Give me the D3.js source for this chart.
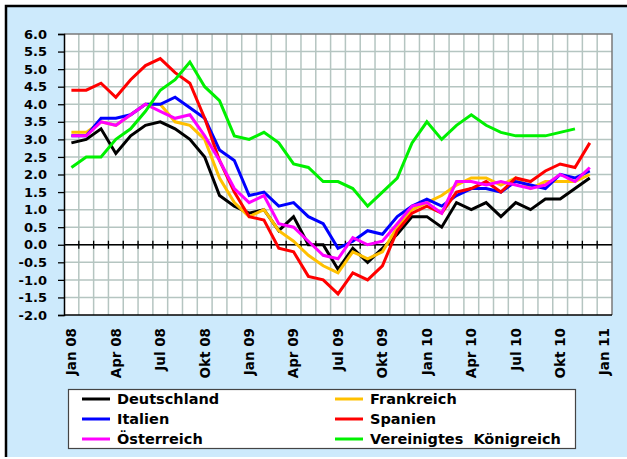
<!DOCTYPE html>
<html>
<head>
<meta charset="utf-8">
<script src="https://cdn.jsdelivr.net/npm/d3@7"></script>
<style>
  body { margin: 0; background: #fff; }
  svg text { font-family: "DejaVu Sans", Verdana, sans-serif; font-weight: bold; fill: #000; }
</style>
</head>
<body>
<svg id="chart" width="627" height="459"></svg>
<script>
// Monate (Kategorien der x-Achse), Jan 08 bis Jan 11
const months = [
  'Jan 08', 'Feb 08', 'Mrz 08', 'Apr 08', 'Mai 08', 'Jun 08', 'Jul 08', 'Aug 08', 'Sep 08', 'Okt 08', 'Nov 08', 'Dez 08',
  'Jan 09', 'Feb 09', 'Mrz 09', 'Apr 09', 'Mai 09', 'Jun 09', 'Jul 09', 'Aug 09', 'Sep 09', 'Okt 09', 'Nov 09', 'Dez 09',
  'Jan 10', 'Feb 10', 'Mrz 10', 'Apr 10', 'Mai 10', 'Jun 10', 'Jul 10', 'Aug 10', 'Sep 10', 'Okt 10', 'Nov 10', 'Dez 10',
  'Jan 11'
];
const tickLabels = ['Jan 08', 'Apr 08', 'Jul 08', 'Okt 08', 'Jan 09', 'Apr 09', 'Jul 09', 'Okt 09',
  'Jan 10', 'Apr 10', 'Jul 10', 'Okt 10', 'Jan 11'];
const yTicks = d3.range(-2, 6.01, 0.5);

// Werte je Land (Jan 08 .. Dez 10)
const deutschland = [2.9, 3.0, 3.3, 2.6, 3.1, 3.4, 3.5, 3.3, 3.0, 2.5, 1.4, 1.1,
  0.9, 1.0, 0.4, 0.8, 0.0, 0.0, -0.7, -0.1, -0.5, -0.1, 0.3, 0.8,
  0.8, 0.5, 1.2, 1.0, 1.2, 0.8, 1.2, 1.0, 1.3, 1.3, 1.6, 1.9];
const frankreich = [3.2, 3.2, 3.5, 3.4, 3.7, 4.0, 4.0, 3.5, 3.4, 3.0, 1.9, 1.2,
  0.8, 1.0, 0.4, 0.1, -0.3, -0.6, -0.8, -0.2, -0.4, -0.2, 0.5, 1.0,
  1.2, 1.4, 1.7, 1.9, 1.9, 1.7, 1.9, 1.6, 1.8, 1.8, 1.8, 2.0];
const italien = [3.1, 3.1, 3.6, 3.6, 3.7, 4.0, 4.0, 4.2, 3.9, 3.6, 2.7, 2.4,
  1.4, 1.5, 1.1, 1.2, 0.8, 0.6, -0.1, 0.1, 0.4, 0.3, 0.8, 1.1,
  1.3, 1.1, 1.4, 1.6, 1.6, 1.5, 1.8, 1.7, 1.6, 2.0, 1.9, 2.1];
const spanien = [4.4, 4.4, 4.6, 4.2, 4.7, 5.1, 5.3, 4.9, 4.6, 3.6, 2.4, 1.5,
  0.8, 0.7, -0.1, -0.2, -0.9, -1.0, -1.4, -0.8, -1.0, -0.6, 0.4, 0.9,
  1.1, 0.9, 1.5, 1.6, 1.8, 1.5, 1.9, 1.8, 2.1, 2.3, 2.2, 2.9];
const oesterreich = [3.1, 3.1, 3.5, 3.4, 3.7, 4.0, 3.8, 3.6, 3.7, 3.1, 2.4, 1.6,
  1.2, 1.4, 0.6, 0.5, 0.1, -0.3, -0.4, 0.2, 0.0, 0.1, 0.6, 1.1,
  1.2, 0.9, 1.8, 1.8, 1.7, 1.8, 1.7, 1.6, 1.7, 2.0, 1.8, 2.2];
const vereinigtesKoenigreich = [2.2, 2.5, 2.5, 3.0, 3.3, 3.8, 4.4, 4.7, 5.2, 4.5, 4.1, 3.1,
  3.0, 3.2, 2.9, 2.3, 2.2, 1.8, 1.8, 1.6, 1.1, 1.5, 1.9, 2.9,
  3.5, 3.0, 3.4, 3.7, 3.4, 3.2, 3.1, 3.1, 3.1, 3.2, 3.3, null];

const series = [
  { name: 'Deutschland', color: '#000000', values: deutschland },
  { name: 'Frankreich', color: '#ffc000', values: frankreich },
  { name: 'Italien', color: '#0000ff', values: italien },
  { name: 'Spanien', color: '#ff0000', values: spanien },
  { name: 'Österreich', color: '#ff00ff', values: oesterreich },
  { name: 'Vereinigtes  Königreich', color: '#00f000', values: vereinigtesKoenigreich }
];

const plot = { left: 64, right: 612, top: 34, bottom: 315 };

const svg = d3.select('#chart');

// Hintergrund mit Rahmen (rechts und unten abgeschnitten)
svg.append('rect')
  .attr('x', 6).attr('y', 6).attr('width', 621).attr('height', 451)
  .attr('fill', '#cdeafc');
svg.append('path')
  .attr('d', 'M6,457V6H627')
  .attr('fill', 'none').attr('stroke', '#000').attr('stroke-width', 2.5);

const x = d3.scaleBand()
  .domain(months)
  .range([plot.left, plot.right])
  .padding(0);
const xc = m => x(m) + x.bandwidth() / 2;

const y = d3.scaleLinear()
  .domain([-2, 6])
  .range([plot.bottom, plot.top]);

svg.append('rect')
  .attr('x', plot.left).attr('y', plot.top)
  .attr('width', plot.right - plot.left).attr('height', plot.bottom - plot.top)
  .attr('fill', '#fff');

// Gitternetz
const grid = svg.append('g')
  .attr('stroke', '#b5c5c1').attr('stroke-width', 1.5);
grid.selectAll('line.h')
  .data(yTicks.filter(v => v > -2 && v < 6))
  .join('line')
  .attr('x1', plot.left).attr('x2', plot.right)
  .attr('y1', d => y(d)).attr('y2', d => y(d));
grid.selectAll('line.v')
  .data(months.slice(1))
  .join('line')
  .attr('x1', d => x(d)).attr('x2', d => x(d))
  .attr('y1', plot.top).attr('y2', plot.bottom);

// Rahmen oben/rechts
svg.append('path')
  .attr('d', `M${plot.left},${plot.top}H${plot.right}V${plot.bottom}`)
  .attr('fill', 'none').attr('stroke', '#7a7a7a').attr('stroke-width', 1.5);

// Nulllinie mit Teilstrichen
const zero = svg.append('g').attr('stroke', '#000');
zero.append('line')
  .attr('x1', plot.left).attr('x2', plot.right)
  .attr('y1', y(0)).attr('y2', y(0))
  .attr('stroke-width', 1.3);
zero.selectAll('line.t')
  .data(months.slice(1))
  .join('line')
  .attr('x1', d => x(d)).attr('x2', d => x(d))
  .attr('y1', y(0) - 4).attr('y2', y(0) + 4)
  .attr('stroke-width', 1.3);

// y-Achse
const yAxis = svg.append('g')
  .attr('transform', `translate(${plot.left},0)`)
  .call(d3.axisLeft(y).tickValues(yTicks).tickFormat(d => d.toFixed(1)).tickSize(6).tickPadding(11));
yAxis.select('.domain').attr('stroke', '#000').attr('stroke-width', 1.5);
yAxis.selectAll('.tick line').attr('stroke', '#000').attr('stroke-width', 1.3);
yAxis.selectAll('.tick text')
  .style('font-size', '13px')
  .style('font-family', '"DejaVu Sans", sans-serif')
  .style('font-weight', 'bold')
  .attr('fill', '#000');

// x-Achse (untere Linie)
svg.append('line')
  .attr('x1', plot.left).attr('x2', plot.right)
  .attr('y1', plot.bottom).attr('y2', plot.bottom)
  .attr('stroke', '#000').attr('stroke-width', 1.5);

svg.append('g')
  .selectAll('text')
  .data(tickLabels)
  .join('text')
  .attr('transform', d => `translate(${xc(d)},${plot.bottom + 13}) rotate(-90)`)
  .attr('text-anchor', 'end')
  .attr('dy', '0.36em')
  .style('font-size', '13.5px')
  .text(d => d);

// Linien
const line = d3.line()
  .defined(d => d.v !== null)
  .x(d => xc(d.m))
  .y(d => y(d.v));

svg.append('g')
  .selectAll('path')
  .data(series)
  .join('path')
  .attr('fill', 'none')
  .attr('stroke', d => d.color)
  .attr('stroke-width', 3)
  .attr('stroke-linejoin', 'miter')
  .attr('d', d => line(d.values.map((v, i) => ({ m: months[i], v }))));

// Legende
const legend = svg.append('g');
legend.append('rect')
  .attr('x', 68.5).attr('y', 389.5).attr('width', 507).attr('height', 59)
  .attr('fill', '#fff').attr('stroke', '#444').attr('stroke-width', 1.2);

const items = legend.selectAll('g.item')
  .data(series)
  .join('g')
  .attr('transform', (d, i) => `translate(${i % 2 === 0 ? 82 : 335},${399 + Math.floor(i / 2) * 20})`);
items.append('line')
  .attr('x1', 0).attr('x2', 28)
  .attr('stroke', d => d.color).attr('stroke-width', 3);
items.append('text')
  .attr('x', 35).attr('dy', '0.36em')
  .style('font-size', '14.5px')
  .style('white-space', 'pre')
  .text(d => d.name);
</script>
</body>
</html>
